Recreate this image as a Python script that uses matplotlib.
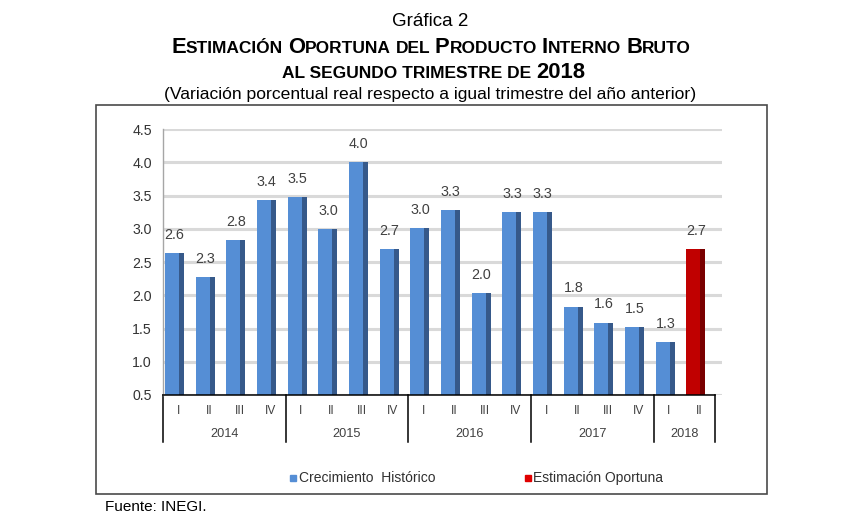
import matplotlib
matplotlib.use("Agg")
import matplotlib.pyplot as plt
from matplotlib.patches import Rectangle
from matplotlib.lines import Line2D
import matplotlib.transforms as mtransforms

plt.rcParams['font.family'] = ['Liberation Sans', 'DejaVu Sans']

# ---- data ----
years = ['2014', '2015', '2016', '2017', '2018']
quarters_per_year = [4, 4, 4, 4, 2]
quarter_labels = ['I', 'II', 'III', 'IV', 'I', 'II', 'III', 'IV', 'I', 'II', 'III', 'IV',
                  'I', 'II', 'III', 'IV', 'I', 'II']
historic = [2.63, 2.28, 2.83, 3.43, 3.47, 3.00, 4.00, 2.70, 3.01, 3.28, 2.03, 3.25,
            3.25, 1.83, 1.59, 1.52, 1.29]
historic_labels = ['2.6', '2.3', '2.8', '3.4', '3.5', '3.0', '4.0', '2.7', '3.0', '3.3', '2.0', '3.3',
                   '3.3', '1.8', '1.6', '1.5', '1.3']
estimate = [2.70]
estimate_labels = ['2.7']
yticks = [0.5, 1.0, 1.5, 2.0, 2.5, 3.0, 3.5, 4.0, 4.5]

W, H = 860, 530
fig = plt.figure(figsize=(W / 100, H / 100), dpi=100)

def fx(px):
    return px / W

def fy(py):
    return 1 - py / H

# axes: left 163, right 722, top 129 (4.5), bottom 395 (0.5)
ax = fig.add_axes([fx(163), fy(395), fx(722) - fx(163), fy(129) - fy(395)])
slot = (715 - 163) / 18.0
xmax = -0.5 + (722 - 163) / slot
ax.set_xlim(-0.5, xmax)
ax.set_ylim(0.5, 4.5)

BLUE = '#558ED5'
BLUE_D = '#36598A'
RED = '#C00000'
RED_D = '#7A0000'
TXT = '#404040'

bw = 0.62
shift = -0.12
side = 0.17

def draw_bars(xs, vals, face, dark, labels):
    for x, v, lab in zip(xs, vals, labels):
        xc = x + shift
        ax.bar(xc, v - 0.5, bottom=0.5, width=bw, color=face, zorder=3, linewidth=0)
        ax.bar(xc + bw / 2 - side / 2, v - 0.5, bottom=0.5, width=side, color=dark,
               zorder=4, linewidth=0)
        ax.annotate(lab, (xc, v), xytext=(0, 8), textcoords='offset points',
                    ha='center', va='bottom', fontsize=10.3, color=TXT, zorder=5)

n_hist = len(historic)
draw_bars(range(n_hist), historic, BLUE, BLUE_D, historic_labels)
draw_bars(range(n_hist, n_hist + len(estimate)), estimate, RED, RED_D, estimate_labels)

# gridlines
for yv in yticks:
    ax.axhline(yv, color='#D9D9D9', lw=2.2, zorder=1)

ax.set_yticks(yticks)
ax.set_yticklabels([f'{v:.1f}' for v in yticks], fontsize=10.2, color='#333333')
ax.tick_params(axis='y', length=0, pad=8)
ax.set_xticks([])
for s in ['top', 'right', 'bottom']:
    ax.spines[s].set_visible(False)
ax.spines['left'].set_color('#A6A6A6')
ax.spines['left'].set_linewidth(1.0)

# category axis
trans = mtransforms.blended_transform_factory(ax.transData, ax.transAxes)
ax.add_line(Line2D([-0.5, 17.5], [0, 0], transform=trans, color='black', lw=1.1,
                   clip_on=False, zorder=6))
depth = -(442 - 395) / (395 - 129)
qy = -(410.5 - 395) / (395 - 129)
yy = -(434 - 395) / (395 - 129)
bounds = [-0.5]
for n in quarters_per_year:
    bounds.append(bounds[-1] + n)
for b in bounds:
    ax.add_line(Line2D([b, b], [0, depth], transform=trans, color='black', lw=1.1,
                       clip_on=False))
for i, q in enumerate(quarter_labels):
    ax.text(i, qy, q, transform=trans, ha='center', va='center', fontsize=8.6, color=TXT)
for yr, a, b in zip(years, bounds[:-1], bounds[1:]):
    ax.text((a + b) / 2, yy, yr, transform=trans, ha='center', va='center',
            fontsize=9.2, color=TXT)

# outer border
fig.patches.append(Rectangle((fx(96), fy(494)), fx(767) - fx(96), fy(105) - fy(494),
                             transform=fig.transFigure, fill=False, edgecolor='#4A4A4A',
                             lw=1.2))

# legend
fig.patches.append(Rectangle((fx(290), fy(481)), fx(6), 6 / H, transform=fig.transFigure,
                             color=BLUE))
fig.text(fx(299), fy(478), 'Crecimiento  Histórico', fontsize=10, color='#303030',
         va='center', ha='left')
fig.patches.append(Rectangle((fx(525), fy(481)), fx(6), 6 / H, transform=fig.transFigure,
                             color='#E00000'))
fig.text(fx(533), fy(478), 'Estimación Oportuna', fontsize=10, color='#303030',
         va='center', ha='left')

fig.text(fx(105), fy(507), 'Fuente: INEGI.', fontsize=11, color='black',
         va='center', ha='left')

# titles
fig.text(0.5, fy(21.5), 'Gráfica 2', fontsize=13.5, ha='center', va='center', color='black')
fig.text(0.5, fy(94.5), '(Variación porcentual real respecto a igual trimestre del año anterior)',
         fontsize=12.6, ha='center', va='center', color='black')

renderer = fig.canvas.get_renderer()

def width_of(s, size):
    t = fig.text(0, 0, s, fontsize=size, fontweight='bold')
    w = t.get_window_extent(renderer=renderer).width
    t.remove()
    return w

def smallcaps_line(y_base_px, parts, big=15.8, small=12.5, xc=W / 2):
    # parts: list of (text, is_big); ' ' denotes a space
    sp = width_of('a a', small) - width_of('aa', small)
    widths = []
    for s, b in parts:
        widths.append(sp if s == ' ' else width_of(s, big if b else small))
    total = sum(widths)
    x = xc - total / 2
    for (s, b), w in zip(parts, widths):
        if s != ' ':
            fig.text(fx(x), fy(y_base_px), s, fontsize=big if b else small,
                     fontweight='bold', ha='left', va='baseline', color='black')
        x += w

line2 = []
for word in ['ESTIMACIÓN', 'OPORTUNA', 'DEL', 'PRODUCTO', 'INTERNO', 'BRUTO']:
    if line2:
        line2.append((' ', False))
    if word == 'DEL':
        line2.append((word, False))
    else:
        line2.append((word[0], True))
        line2.append((word[1:], False))
smallcaps_line(53, line2, xc=431)
smallcaps_line(78, [('AL SEGUNDO TRIMESTRE DE', False), (' ', False), ('2018', True)], xc=434)

fig.savefig('out.png', dpi=100)
